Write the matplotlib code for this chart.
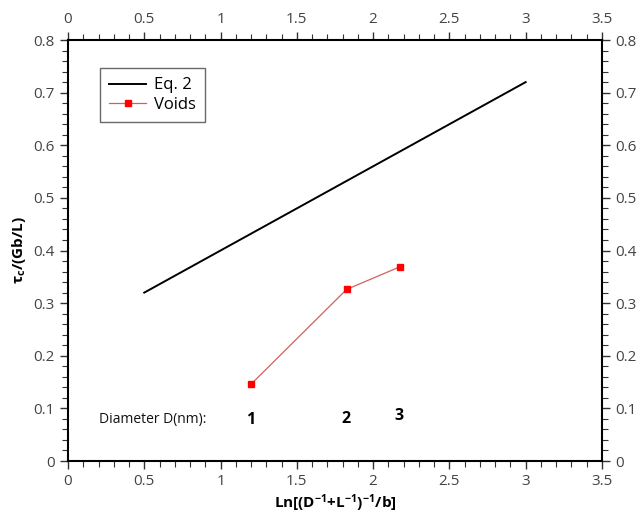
import matplotlib
matplotlib.use("Agg")
from matplotlib import pyplot as plt
from matplotlib.ticker import MultipleLocator

# data
eq2_x = [0.5, 3.0]
eq2_y = [0.32, 0.72]
voids_x = [1.2, 1.826, 2.175]
voids_y = [0.146, 0.326, 0.369]
diam_labels = ["1", "2", "3"]
diam_x = [1.2, 1.82, 2.17]
diam_y = [0.078, 0.079, 0.086]

plt.rcParams['font.family'] = ['Open Sans', 'DejaVu Sans']
plt.rcParams['mathtext.fontset'] = 'custom'
plt.rcParams['mathtext.rm'] = 'Open Sans:bold'
plt.rcParams['mathtext.bf'] = 'Open Sans:bold'
plt.rcParams['mathtext.it'] = 'Open Sans:bold'
plt.rcParams['mathtext.default'] = 'bf'

fig = plt.figure(figsize=(6.39, 5.17), dpi=100)
ax = fig.add_axes([0.1064, 0.1083, 0.8356, 0.8143])

ax.plot(eq2_x, eq2_y, '-', color='black', lw=1.4, label='Eq. 2')
ax.plot(voids_x, voids_y, '-', color='#d06060', lw=0.9, marker='s', ms=4.8,
        mfc='red', mec='red', label='Voids')

ax.set_xlim(0, 3.5)
ax.set_ylim(0, 0.8)
ax.xaxis.set_major_locator(MultipleLocator(0.5))
ax.xaxis.set_minor_locator(MultipleLocator(0.1))
ax.yaxis.set_major_locator(MultipleLocator(0.1))
ax.yaxis.set_minor_locator(MultipleLocator(0.02))
ax.xaxis.set_major_formatter(lambda v, p: f"{v:g}")
ax.yaxis.set_major_formatter(lambda v, p: f"{v:g}")

ax.tick_params(which='both', direction='out', top=True, right=True,
               labeltop=True, labelright=True, labelsize=11,
               labelcolor='#444444', color='#333333')
ax.tick_params(which='major', length=6, width=1)
ax.tick_params(which='minor', length=4, width=0.8)
for s in ax.spines.values():
    s.set_linewidth(1.5)

ax.set_xlabel(r"Ln[(D$^{-1}$+L$^{-1}$)$^{-1}$/b]", fontweight='bold', fontsize=11, labelpad=2)
ax.set_ylabel(r"$\tau_c$/(Gb/L)", fontweight='bold', fontsize=11, labelpad=4)

ax.text(0.2, 0.078, "Diameter D(nm):", fontsize=10, va='center', ha='left', color='#111111')
for lab, x, y in zip(diam_labels, diam_x, diam_y):
    ax.text(x, y, lab, fontsize=11.5, fontweight='bold', va='center', ha='center')

leg = ax.legend(loc='upper left', bbox_to_anchor=(0.06, 0.933), fontsize=12,
                frameon=True, fancybox=False, edgecolor='#444444',
                handlelength=2.2, handletextpad=0.5, borderpad=0.55,
                labelspacing=0.2, borderaxespad=0)
leg.get_frame().set_linewidth(1.0)

fig.savefig("out.png", dpi=100)
